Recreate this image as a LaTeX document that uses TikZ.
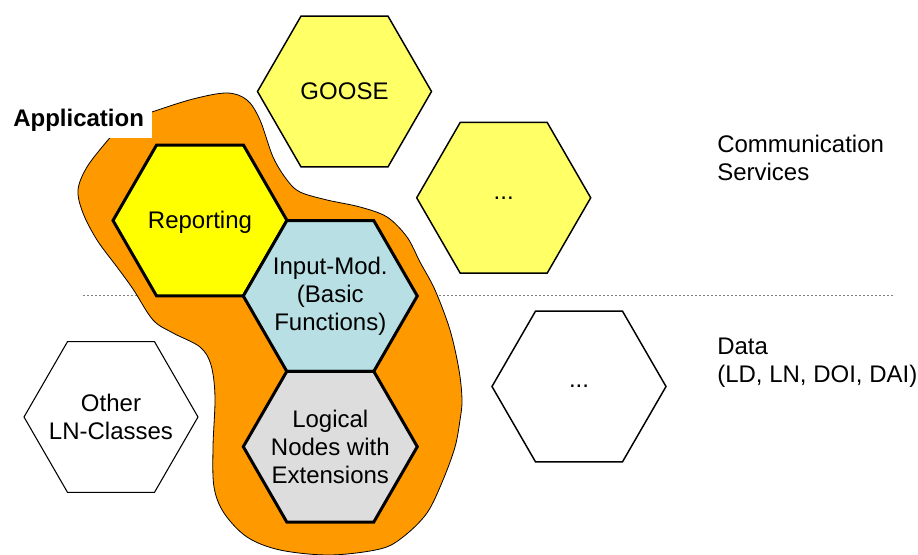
\documentclass[tikz,border=0pt]{standalone}
\usepackage{fontspec}
\setmainfont{Liberation Sans}
\usetikzlibrary{shapes.geometric}

\definecolor{blobfill}{HTML}{FF9900}
\definecolor{paleyellow}{HTML}{FFFF66}
\definecolor{brightyellow}{HTML}{FFFF00}
\definecolor{paleblue}{HTML}{B8DFE3}
\definecolor{lightgrey}{HTML}{DDDDDD}
\definecolor{dotgrey}{HTML}{808080}

\begin{document}
\begin{tikzpicture}[x=0.75pt,y=-0.75pt,
  every node/.style={font=\fontsize{18}{21}\selectfont},
  hexa/.style={shape=regular polygon, regular polygon sides=6,
    minimum size=130.5pt, inner sep=0pt, draw=black},
  thinhex/.style={hexa, line width=1.1pt},
  thickhex/.style={hexa, line width=2.25pt},
  hextext/.style={align=center, inner sep=0pt},
  sidetext/.style={anchor=base west, align=left, inner sep=0pt},
]
\useasboundingbox (0,0) rectangle (918,555);

% separator between services and data
\coordinate (sepL) at (83,296);
\coordinate (sepR) at (893,296);
\draw[dotgrey, line width=0.75pt, dash pattern=on 1.5pt off 1.5pt] (sepL) -- (sepR);

% application area
\draw[fill=blobfill, line width=0.6pt]
  plot[smooth cycle, tension=0.55] coordinates {
    (125,122) (152,112) (193,99) (227,93) (247,100) (260,120) (273,157)
    (287,180) (300,192) (327,200) (360,207) (387,217) (407,237) (420,262)
    (435,290) (450,330) (459,370) (462,400) (460,420) (455,447) (443,480)
    (427,513) (403,537) (380,549) (330,555) (280,550) (247,537) (224,513)
    (214,487) (213,447) (215,397) (211,365) (200,347) (173,333) (153,320)
    (133,289) (117,267) (97,240) (83,213) (78,190) (87,167) (108,140)};

% label with its white backing
\fill[white] (0,103) rectangle (152,137.7);
\node[anchor=base west, inner sep=0pt, font=\bfseries\fontsize{18}{21}\selectfont]
  (app) at (13,126.7) {Application};

% communication services
\node[thinhex, fill=paleyellow] (goose) at (344.5,91.5) {};
\node[hextext] (goosetxt) at (goose.center) {GOOSE};
\node[thinhex, fill=paleyellow] (commore) at (503.7,197.8) {};
\node[hextext] (commoretxt) at (commore.center) {...};

% application hexagons
\node[thickhex, fill=brightyellow] (reporting) at (200,220.5) {};
\node[thickhex, fill=paleblue] (inputmod) at (330.3,296) {};
\node[thickhex, fill=lightgrey] (lnext) at (330.3,446.7) {};
\node[hextext] (reportingtxt) at ([yshift=-1pt]reporting.center) {Reporting};
\node[hextext] (inputmodtxt) at (inputmod.center) {Input-Mod.\\(Basic\\Functions)};
\node[hextext] (lnexttxt) at (lnext.center) {Logical\\Nodes with\\Extensions};

% data
\node[hexa, line width=0.8pt, fill=white] (otherln) at (111,417) {};
\node[hextext] (otherlntxt) at (otherln.center) {Other\\LN-Classes};
\node[thinhex, fill=white] (datamore) at (579,386.5) {};
\node[hextext] (datamoretxt) at (datamore.center) {...};

% side captions
\node[sidetext] (comm) at (717,181) {Communication\\Services};
\node[sidetext] (data) at (717,383) {Data\\(LD, LN, DOI, DAI)};
\end{tikzpicture}
\end{document}
